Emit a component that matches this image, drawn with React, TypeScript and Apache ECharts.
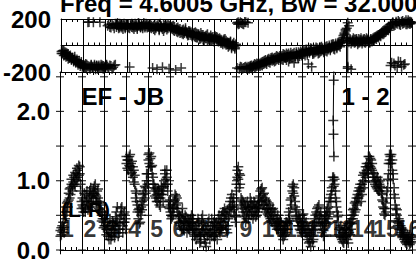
import React, { useEffect, useRef } from 'react';
import * as echarts from 'echarts';

const titleText = 'Freq = 4.6005 GHz, Bw = 32.000';
const baselineText = 'EF - JB';
const ifText = '1 - 2';
const polText = '(L-R)';
const scanLabels = ['1', '2', '3', '4', '5', '6', '7', '8', '9', '10', '11', '12', '13', '14', '15', '16'];
const phaseLabelValues = [-200, 200];
const ampLabelValues = [0, 1, 2];
const ampTickValues = [0, 0.5, 1, 1.5, 2, 2.5];

const ampByScanA: number[][] = [
  [0.28, 0.22, 0.35, 0.30, 0.25, 0.45, 0.62, 0.55, 0.70, 0.82, 0.75, 0.90, 0.95, 0.85, 0.98, 1.05, 0.92, 1.10, 1.00, 1.15, 1.08, 1.20, 0.95, 0.70],
  [0.65, 0.55, 0.72, 0.60, 0.80, 0.70, 0.58, 0.75, 0.85, 0.68, 0.78, 0.62, 0.88, 0.92, 0.80, 0.70, 0.85, 0.75, 0.60, 0.70, 0.55, 0.50, 0.45, 0.40],
  [0.45, 0.35, 0.30, 0.40, 0.20, 0.25, 0.35, 0.15, 0.30, 0.42, 0.28, 0.18, 0.35, 0.55, 0.40, 0.30, 0.25, 0.45, 0.60, 0.50, 0.35, 0.40, 0.55, 0.30],
  [1.25, 1.30, 1.15, 1.35, 1.20, 1.10, 1.28, 1.05, 1.15, 0.95, 0.85, 0.70, 0.55, 0.45, 0.60, 0.40, 0.50, 0.70, 0.65, 0.85, 0.75, 0.90, 1.00, 1.10],
  [1.30, 1.40, 1.20, 1.35, 1.10, 0.95, 0.85, 0.90, 0.75, 0.80, 0.70, 0.88, 0.65, 0.75, 0.92, 0.80, 0.70, 1.00, 1.10, 0.95, 1.15, 0.85, 0.70, 0.60],
  [0.55, 0.45, 0.60, 0.50, 0.70, 0.80, 0.65, 0.75, 0.55, 0.40, 0.50, 0.35, 0.45, 0.60, 0.30, 0.40, 0.50, 0.35, 0.25, 0.45, 0.30, 0.40, 0.35, 0.50],
  [0.40, 0.30, 0.20, 0.35, 0.15, 0.25, 0.45, 0.30, 0.10, 0.20, 0.35, 0.50, 0.25, 0.15, 0.30, 0.05, 0.20, 0.40, 0.30, 0.15, 0.25, 0.45, 0.35, 0.20],
  [0.30, 0.20, 0.40, 0.15, 0.35, 0.50, 0.25, 0.45, 0.30, 0.55, 0.40, 0.60, 0.35, 0.50, 0.25, 0.45, 0.60, 0.70, 0.55, 0.80, 0.65, 0.75, 0.50, 0.40],
  [0.85, 1.05, 1.20, 1.10, 0.95, 0.75, 0.60, 0.70, 0.50, 0.65, 0.40, 0.55, 0.70, 0.45, 0.60, 0.75, 0.50, 0.65, 0.45, 0.70, 0.55, 0.60, 0.50, 0.65],
  [0.60, 0.75, 0.85, 0.70, 0.90, 0.80, 0.65, 0.75, 0.55, 0.70, 0.60, 0.50, 0.65, 0.45, 0.55, 0.40, 0.60, 0.50, 0.35, 0.45, 0.30, 0.50, 0.40, 0.35],
  [0.35, 0.25, 0.30, 0.15, 0.20, 0.35, 0.25, 0.40, 0.30, 0.45, 0.50, 0.60, 0.75, 0.85, 0.95, 0.90, 0.70, 0.55, 0.45, 0.35, 0.50, 0.30, 0.40, 0.25],
  [0.50, 0.35, 0.45, 0.25, 0.40, 0.20, 0.30, 0.10, 0.25, 0.05, 0.20, 0.35, 0.15, 0.45, 0.30, 0.55, 0.60, 0.40, 0.65, 0.50, 0.35, 0.45, 0.30, 0.20],
  [0.35, 0.50, 0.40, 0.60, 0.45, 0.70, 0.55, 0.80, 0.90, 1.00, 1.05, 0.95, 0.85, 0.70, 0.55, 0.40, 0.30, 0.20, 0.35, 0.15, 0.25, 0.10, 0.30, 0.20],
  [0.20, 0.35, 0.10, 0.25, 0.40, 0.30, 0.50, 0.45, 0.60, 0.55, 0.70, 0.65, 0.80, 0.75, 0.90, 0.85, 0.70, 0.95, 1.00, 0.90, 1.10, 1.05, 1.15, 1.20],
  [1.25, 1.35, 1.20, 1.30, 1.15, 1.05, 1.10, 0.95, 1.00, 0.90, 1.05, 0.85, 0.95, 1.00, 0.90, 0.80, 0.70, 0.60, 0.50, 0.55, 0.75, 0.90, 1.10, 1.30],
  [1.35, 1.25, 1.30, 1.10, 0.90, 0.75, 0.60, 0.50, 0.40, 0.45, 0.30, 0.35, 0.25, 0.30, 0.20, 0.15, 0.25, 0.10, 0.20, 0.15, 0.12, 0.22, 0.10, 0.18],
];

const ampByScanB: number[][] = [
  [0.20, 0.32, 0.26, 0.40, 0.33, 0.55, 0.50, 0.68, 0.62, 0.72, 0.88, 0.80, 1.02, 0.92, 1.08, 0.95, 1.12, 1.02, 1.18, 1.05, 1.22, 1.10, 0.85, 0.60],
  [0.75, 0.62, 0.82, 0.55, 0.70, 0.85, 0.65, 0.62, 0.78, 0.90, 0.70, 0.82, 0.75, 0.82, 0.95, 0.78, 0.68, 0.88, 0.68, 0.58, 0.65, 0.42, 0.55, 0.32],
  [0.35, 0.50, 0.22, 0.30, 0.35, 0.15, 0.45, 0.25, 0.20, 0.35, 0.38, 0.25, 0.48, 0.40, 0.62, 0.20, 0.38, 0.30, 0.50, 0.62, 0.25, 0.52, 0.40, 0.45],
  [1.35, 1.18, 1.30, 1.22, 1.38, 1.25, 1.12, 1.20, 0.98, 1.08, 0.75, 0.82, 0.65, 0.58, 0.38, 0.55, 0.62, 0.58, 0.80, 0.72, 0.92, 0.82, 1.10, 0.95],
  [1.38, 1.25, 1.32, 1.20, 1.22, 1.05, 0.95, 0.78, 0.88, 0.70, 0.85, 0.75, 0.82, 0.62, 0.80, 0.90, 0.85, 0.92, 1.15, 1.02, 1.05, 0.95, 0.62, 0.72],
  [0.65, 0.50, 0.48, 0.62, 0.60, 0.72, 0.78, 0.60, 0.68, 0.50, 0.38, 0.48, 0.30, 0.52, 0.42, 0.28, 0.42, 0.48, 0.38, 0.32, 0.40, 0.28, 0.45, 0.38],
  [0.30, 0.45, 0.28, 0.22, 0.30, 0.38, 0.20, 0.40, 0.22, 0.12, 0.45, 0.30, 0.38, 0.22, 0.10, 0.28, 0.35, 0.22, 0.45, 0.25, 0.35, 0.20, 0.28, 0.40],
  [0.22, 0.38, 0.25, 0.32, 0.45, 0.28, 0.42, 0.32, 0.50, 0.35, 0.55, 0.45, 0.52, 0.30, 0.58, 0.35, 0.48, 0.62, 0.75, 0.62, 0.70, 0.58, 0.62, 0.48],
  [0.95, 1.15, 1.02, 0.90, 1.08, 0.65, 0.72, 0.55, 0.68, 0.48, 0.62, 0.45, 0.58, 0.62, 0.52, 0.62, 0.70, 0.55, 0.62, 0.50, 0.68, 0.48, 0.62, 0.55],
  [0.70, 0.62, 0.78, 0.88, 0.72, 0.65, 0.82, 0.60, 0.72, 0.58, 0.52, 0.68, 0.48, 0.60, 0.42, 0.58, 0.45, 0.38, 0.55, 0.35, 0.45, 0.38, 0.30, 0.42],
  [0.28, 0.40, 0.20, 0.28, 0.30, 0.22, 0.40, 0.30, 0.38, 0.55, 0.42, 0.72, 0.65, 0.92, 0.82, 0.78, 0.62, 0.48, 0.58, 0.42, 0.35, 0.45, 0.28, 0.35],
  [0.40, 0.52, 0.30, 0.38, 0.25, 0.35, 0.15, 0.28, 0.12, 0.22, 0.30, 0.12, 0.28, 0.38, 0.50, 0.40, 0.52, 0.62, 0.48, 0.40, 0.55, 0.25, 0.38, 0.28],
  [0.45, 0.38, 0.55, 0.48, 0.62, 0.52, 0.75, 0.70, 0.85, 1.05, 0.92, 1.02, 0.75, 0.62, 0.48, 0.50, 0.22, 0.32, 0.18, 0.28, 0.12, 0.25, 0.18, 0.32],
  [0.30, 0.15, 0.28, 0.38, 0.22, 0.45, 0.38, 0.58, 0.50, 0.68, 0.58, 0.75, 0.68, 0.85, 0.78, 0.95, 0.88, 0.80, 1.08, 1.12, 0.98, 1.20, 1.25, 1.10],
  [1.35, 1.22, 1.32, 1.18, 1.25, 1.12, 0.98, 1.05, 0.92, 1.02, 0.88, 0.98, 0.85, 0.92, 0.82, 0.72, 0.62, 0.52, 0.60, 0.68, 0.85, 1.02, 1.25, 1.38],
  [1.25, 1.38, 1.15, 1.02, 0.80, 0.65, 0.52, 0.58, 0.35, 0.38, 0.42, 0.22, 0.32, 0.18, 0.28, 0.22, 0.12, 0.18, 0.08, 0.22, 0.18, 0.08, 0.15, 0.12],
];

const phaseByScanA: number[][] = [
  [-45, -60, -35, -70, -55, -80, -65, -95, -75, -100, -90, -110, -85, -120, -105, -130, -115, -140, -125, -150],
  [-150, -165, -140, -175, -155, 178, -160, -145, -170, 175, -155, -165, -150, -175, -160, 176, -145, -165, -155, -170],
  [-160, -150, 150, -170, 140, -155, 160, -165, 130, -145, 155, 170, 145, 135, 160, 150, 125, 165, 140, 155],
  [150, 135, -162, 160, 140, 155, 125, 165, 145, 135, 170, 150, 140, 160, 130, 155, 145, 165, 135, 150],
  [145, 160, 130, -170, 150, 115, 140, -180, 155, 125, 165, 135, -165, 110, 150, 140, 120, 160, -175, 145],
  [140, 125, 150, 110, -185, 130, 100, 120, 95, -170, 115, 85, 105, 130, 90, 75, 110, 95, 80, 100],
  [90, 70, 100, 60, 85, 75, 50, 95, 65, 80, 40, 70, 55, 85, 45, 60, 75, 35, 65, 50],
  [70, 45, 60, 30, 55, 20, 40, 10, 35, 50, 5, 25, -10, 15, 30, -20, 0, 20, -15, 10],
  [170, 160, -175, 175, -165, 165, -170, 178, -160, -175, 172, -165, -155, -170, -160, -150, -165, -145, -155, -140],
  [-150, -135, -145, -125, -140, -115, -130, -120, -105, -125, -110, -95, -115, -100, -120, -90, -105, -85, -110, -95],
  [-100, -80, -110, -70, -95, -60, -85, -120, -75, -55, -90, -65, -130, -80, -50, -70, -95, -60, -45, -75],
  [-60, -40, -75, -30, -55, -140, -45, -20, -160, -65, -35, -50, -15, -40, -60, -25, -45, -10, -30, -50],
  [-30, -10, -45, -20, 0, -35, -15, 10, -25, -5, 15, -20, 5, 20, -10, 30, 45, 60, 85, 110],
  [130, -160, 150, 40, -180, 30, 55, 20, 45, 35, 10, 50, 25, 40, 15, 35, 50, 20, 30, 45],
  [30, 20, 45, 35, 55, 40, 65, 50, 75, 60, 85, 70, 95, 110, 90, 120, 105, 130, 115, 140],
  [160, -130, 170, 150, -150, 180, 165, -120, 175, 155, -160, 185, 170, -140, 160, 175, 190, 165, 180, 170],
];

const phaseByScanB: number[][] = [
  [-60, -40, -75, -50, -85, -60, -100, -80, -90, -110, -95, -120, -105, -130, -115, -145, -135, -155, -140, -160],
  [-165, -150, -170, -145, 175, -160, -175, -150, -160, -165, -145, -180, -155, -165, -150, -170, -160, -150, -175, -160],
  [-170, -145, -160, 160, -150, 135, -175, 150, -150, 165, 140, 155, 130, 165, 145, 135, 160, 150, 130, 160],
  [140, 160, 130, 150, 165, 135, 150, 140, 160, 125, 150, 165, 135, 150, 145, 170, 135, 150, 160, 140],
  [155, 135, 150, 140, 125, 160, 130, 150, 140, 115, 150, 145, 125, 155, 130, 160, 145, 130, 150, 135],
  [130, 145, 115, 140, 120, 105, 135, 110, 125, 100, 90, 120, 95, 115, 100, 90, 80, 105, 90, 70],
  [80, 95, 65, 90, 60, 85, 70, 55, 80, 45, 65, 55, 75, 40, 60, 50, 40, 60, 45, 30],
  [55, 65, 40, 50, 35, 45, 20, 30, 45, 15, 35, 10, 20, 0, 25, -10, 10, -5, -25, 0],
  [-170, 175, 165, -160, 170, -175, 160, -165, 175, -170, -160, -175, -165, -150, -175, -155, -140, -160, -135, -150],
  [-140, -155, -130, -150, -120, -135, -110, -140, -115, -100, -130, -105, -90, -110, -95, -115, -80, -100, -90, -80],
  [-85, -105, -65, -90, -75, -110, -70, -60, -100, -80, -70, -85, -55, -95, -65, -85, -50, -80, -65, -55],
  [-45, -65, -50, -35, -70, -30, -55, -40, -25, -50, -60, -30, -45, -20, -35, -55, -15, -40, -20, -35],
  [-20, -40, -5, -30, -15, -25, 5, -10, 10, -30, 0, -10, 20, 0, 15, 20, 35, 75, 95, 120],
  [55, 35, 25, 50, 15, 40, 30, 45, 25, 50, 30, 20, 40, 55, 30, 45, 25, 40, 55, 35],
  [40, 25, 50, 30, 45, 60, 55, 70, 65, 80, 75, 90, 100, 85, 115, 100, 125, 120, 140, 130],
  [-150, 165, 175, -135, 155, 170, -165, 185, 160, -125, 180, 165, -145, 175, 190, 160, 170, 180, 165, 175],
];

const ampSpikeTimes = [12.45, 12.44, 12.42, 12.43, 12.45];
const ampSpikeValues = [2.65, 2.45, 1.87, 1.67, 1.35];
const phaseWrapTimes = [13.07, 13.07];
const phaseWrapValues = [172, -172];

const FONT = '"Liberation Sans", Arial, Helvetica, sans-serif';
const PLUS = 'path://M5 0V10M0 5H10';

function spread(scans: number[][]): number[][] {
  const out: number[][] = [];
  scans.forEach((vals, k) => {
    const n = vals.length;
    vals.forEach((v, i) => out.push([k + (i + 0.5) / n, v]));
  });
  return out;
}

export default function App() {
  const ref = useRef<HTMLDivElement>(null);
  useEffect(() => {
    if (!ref.current) return;
    const chart = echarts.init(ref.current, undefined, { renderer: 'svg' });
    const nScans = scanLabels.length;

    const tickPts: number[][] = [];
    for (let k = 0; k <= nScans; k++) ampTickValues.forEach((v) => tickPts.push([k, v]));

    const labelPts = scanLabels.map((s, k) => ({ value: [k + 0.05 + 0.0136 * k, 0.3], name: s }));

    const markerStyle = {
      color: 'rgba(0,0,0,0)',
      borderColor: '#000',
      borderWidth: 1.5,
      opacity: 0.78,
    };

    const xBase = (gridIndex: number, position: 'top' | 'bottom', split: boolean) => ({
      type: 'value' as const,
      gridIndex,
      position,
      min: 0,
      max: nScans,
      interval: 1,
      axisLine: { show: true, lineStyle: { color: '#000', width: 1 } },
      axisTick: { show: false, inside: true },
      minorTick: { show: true, splitNumber: 4, length: 3, lineStyle: { color: '#000', width: 1 } },
      axisLabel: { show: false },
      splitLine: { show: split, lineStyle: { color: '#000', width: 1 } },
      minorSplitLine: { show: false },
    });

    const labelStyle = {
      color: '#000',
      fontFamily: FONT,
      fontWeight: 'bold' as const,
      fontSize: 24,
      margin: 10,
    };

    const plusSeries = (xi: number, yi: number, data: number[][]) => ({
      type: 'scatter' as const,
      xAxisIndex: xi,
      yAxisIndex: yi,
      data,
      symbol: PLUS,
      symbolSize: 10,
      itemStyle: markerStyle,
      clip: false,
      z: 4,
    });

    chart.setOption({
      animation: false,
      backgroundColor: '#fff',
      grid: [
        { left: 60, top: 19, width: 352, height: 53, containLabel: false },
        { left: 60, top: 72, width: 352, height: 189, containLabel: false },
      ],
      xAxis: [
        xBase(0, 'bottom', true),
        xBase(0, 'top', false),
        xBase(1, 'bottom', true),
        xBase(1, 'top', false),
      ],
      yAxis: [
        {
          type: 'value',
          gridIndex: 0,
          min: -200,
          max: 200,
          interval: 200,
          axisLine: { show: true, lineStyle: { color: '#000' } },
          axisTick: { show: false },
          splitLine: { show: true, lineStyle: { color: '#000', width: 1 } },
          axisLabel: {
            ...labelStyle,
            formatter: (v: number) => (phaseLabelValues.includes(v) ? String(v) : ''),
          },
        },
        {
          type: 'value',
          gridIndex: 1,
          min: -0.056,
          max: 2.569,
          axisLine: { show: true, lineStyle: { color: '#000' } },
          axisTick: { show: false },
          splitLine: { show: false },
          axisLabel: {
            ...labelStyle,
            customValues: ampLabelValues,
            formatter: (v: number) => (ampLabelValues.some((a) => Math.abs(a - v) < 1e-6) ? v.toFixed(1) : ''),
          },
        },
      ],
      series: [
        {
          type: 'scatter',
          xAxisIndex: 2,
          yAxisIndex: 1,
          data: tickPts,
          symbol: 'rect',
          symbolSize: [8, 1.2],
          itemStyle: { color: '#000' },
          clip: true,
          silent: true,
          z: 3,
        },
        plusSeries(0, 0, spread(phaseByScanA)),
        plusSeries(0, 0, spread(phaseByScanB)),
        {
          type: 'line',
          xAxisIndex: 0,
          yAxisIndex: 0,
          data: phaseWrapTimes.map((t, i) => [t, phaseWrapValues[i]]),
          symbol: PLUS,
          symbolSize: 10,
          itemStyle: markerStyle,
          lineStyle: { color: '#000', width: 1 },
          z: 4,
        },
        plusSeries(2, 1, spread(ampByScanA)),
        plusSeries(2, 1, spread(ampByScanB)),
        {
          type: 'line',
          xAxisIndex: 2,
          yAxisIndex: 1,
          data: ampSpikeTimes.map((t, i) => [t, ampSpikeValues[i]]),
          symbol: PLUS,
          symbolSize: 10,
          showAllSymbol: true,
          itemStyle: markerStyle,
          lineStyle: { color: '#000', width: 1 },
          clip: true,
          z: 4,
        },
        {
          type: 'scatter',
          xAxisIndex: 2,
          yAxisIndex: 1,
          data: labelPts,
          symbolSize: 0,
          silent: true,
          z: 5,
          label: {
            show: true,
            position: [0, 0],
            align: 'left',
            verticalAlign: 'middle',
            lineHeight: 18,
            formatter: (p: any) => p.name,
            color: '#000',
            fontFamily: FONT,
            fontWeight: 'bold',
            fontSize: 23,
          },
        },
      ],
      graphic: [
        {
          type: 'text',
          x: 60,
          y: 3.5,
          z: 10,
          style: { text: titleText, fill: '#000', fontFamily: FONT, fontWeight: 'bold', fontSize: 24, align: 'left', verticalAlign: 'middle' },
        },
        {
          type: 'text',
          x: 81.5,
          y: 96.5,
          z: 10,
          style: { text: baselineText, fill: '#000', fontFamily: FONT, fontWeight: 'bold', fontSize: 24, align: 'left', verticalAlign: 'middle' },
        },
        {
          type: 'text',
          x: 341.5,
          y: 96.5,
          z: 10,
          style: { text: ifText, fill: '#000', fontFamily: FONT, fontWeight: 'bold', fontSize: 24, align: 'left', verticalAlign: 'middle' },
        },
        {
          type: 'text',
          x: 61,
          y: 209,
          z: 10,
          style: { text: polText, fill: '#000', fontFamily: FONT, fontWeight: 'bold', fontSize: 21, lineHeight: 18, align: 'left', verticalAlign: 'middle' },
        },
      ],
    });
    return () => chart.dispose();
  }, []);
  return <div ref={ref} style={{ position: 'fixed', left: 0, top: 0, width: 416, height: 262 }} />;
}
